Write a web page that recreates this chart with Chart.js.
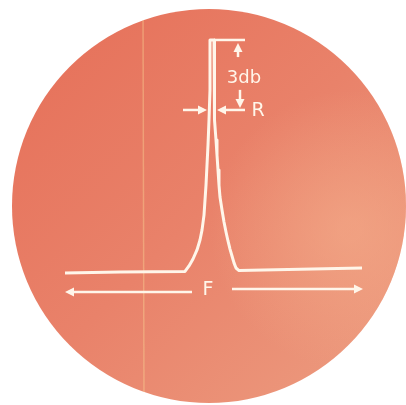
<!DOCTYPE html>
<html>
<head>
<meta charset="utf-8">
<script src="https://cdn.jsdelivr.net/npm/chart.js@4.4.0/dist/chart.umd.min.js"></script>
<style>
  html, body { margin: 0; padding: 0; background: #ffffff; }
  #wrap { width: 406px; height: 405px; }
</style>
</head>
<body>
<div id="wrap"><canvas id="scope" width="406" height="405"></canvas></div>
<script>
// Resonance curve as seen on the scope: frequency offset (0 = resonance) vs relative amplitude (peak = 1)
const freq = [-36.75, -23, -6.75, -5.75, -4.75, -3.75, -3, -2.5, -2, -1.75, -1.5, -1.25, -1, -0.75, -0.5, -0.5,
              0.5, 0.5, 0.75, 1, 1.25, 1.5, 1.75, 2, 2.5, 3, 3.5, 4, 4.5, 5, 5.5, 6, 6.75, 37.5];
const amp  = [-0.009, -0.004, -0.002, 0.022, 0.052, 0.091, 0.134, 0.177, 0.242, 0.307, 0.372, 0.459, 0.545, 0.654, 0.784, 1.0,
              1.0, 0.784, 0.654, 0.567, 0.502, 0.437, 0.372, 0.320, 0.264, 0.212, 0.169, 0.130, 0.095, 0.065, 0.035, 0.013, 0.002, 0.013];

// marker levels and labels
const peakLevel = 1.0;
const dbLevel = 0.697;        // 3 db down
const fLevelLeft = -0.091;
const fLevelRight = -0.078;

// [x1, y1, x2, y2, arrowhead at end?]
const markers = [
  [0.5, peakLevel, 8.25, peakLevel, false],   // top reference
  [6.5, 0.926, 6.5, 0.987, true],             // up to peak
  [7, 0.784, 7, 0.706, true],                 // down to 3db
  [8.25, dbLevel, 1.25, dbLevel, true],       // R right side
  [-7.25, dbLevel, -1.25, dbLevel, true],     // R left side
  [-5, fLevelLeft, -36.75, fLevelLeft, true], // F left
  [5, fLevelRight, 37.75, fLevelRight, true]  // F right
];

// [text, x, y, font size]
const labels = [
  ["3db", 8, 0.835, 18],
  ["R", 11.5, 0.693, 19],
  ["F", -1, -0.082, 19]
];

const ink = "#fff6ea";

const scopeFace = {
  id: "scopeFace",
  beforeDraw(chart) {
    const ctx = chart.ctx;
    ctx.save();
    ctx.fillStyle = "#ffffff";
    ctx.fillRect(0, 0, chart.width, chart.height);
    const cx = 209, cy = 206, r = 197;
    ctx.beginPath();
    ctx.arc(cx, cy, r, 0, Math.PI * 2);
    ctx.clip();
    const g = ctx.createLinearGradient(40, 30, 380, 380);
    g.addColorStop(0, "#e6715a");
    g.addColorStop(0.5, "#e9826a");
    g.addColorStop(1, "#ec9a7e");
    ctx.fillStyle = g;
    ctx.fillRect(0, 0, chart.width, chart.height);
    const h = ctx.createRadialGradient(350, 230, 10, 350, 230, 140);
    h.addColorStop(0, "rgba(245,175,140,0.55)");
    h.addColorStop(1, "rgba(245,175,140,0)");
    ctx.fillStyle = h;
    ctx.fillRect(0, 0, chart.width, chart.height);
    // crease in the photo
    ctx.strokeStyle = "rgba(250,215,150,0.4)";
    ctx.lineWidth = 1.5;
    ctx.beginPath();
    ctx.moveTo(143, 0);
    ctx.lineTo(144, chart.height);
    ctx.stroke();
    ctx.restore();
  }
};

function arrow(ctx, x1, y1, x2, y2, head) {
  const a = Math.atan2(y2 - y1, x2 - x1);
  const len = head ? 9 : 0;
  ctx.beginPath();
  ctx.moveTo(x1, y1);
  ctx.lineTo(x2 - Math.cos(a) * len * 0.8, y2 - Math.sin(a) * len * 0.8);
  ctx.stroke();
  if (head) {
    ctx.beginPath();
    ctx.moveTo(x2, y2);
    ctx.lineTo(x2 - Math.cos(a) * len + Math.sin(a) * 4.5, y2 - Math.sin(a) * len - Math.cos(a) * 4.5);
    ctx.lineTo(x2 - Math.cos(a) * len - Math.sin(a) * 4.5, y2 - Math.sin(a) * len + Math.cos(a) * 4.5);
    ctx.closePath();
    ctx.fill();
  }
}

const scopeMarks = {
  id: "scopeMarks",
  afterDatasetsDraw(chart) {
    const ctx = chart.ctx;
    const xs = chart.scales.x, ys = chart.scales.y;
    ctx.save();
    ctx.strokeStyle = ink;
    ctx.fillStyle = ink;
    ctx.lineWidth = 2.5;
    markers.forEach(m => {
      arrow(ctx, xs.getPixelForValue(m[0]), ys.getPixelForValue(m[1]),
        xs.getPixelForValue(m[2]), ys.getPixelForValue(m[3]), m[4]);
    });
    ctx.textAlign = "center";
    ctx.textBaseline = "middle";
    labels.forEach(l => {
      ctx.font = l[3] + "px 'DejaVu Sans', sans-serif";
      ctx.fillText(l[0], xs.getPixelForValue(l[1]), ys.getPixelForValue(l[2]));
    });
    ctx.restore();
  }
};

new Chart(document.getElementById("scope"), {
  type: "scatter",
  data: {
    datasets: [{
      data: freq.map((f, i) => ({ x: f, y: amp[i] })),
      showLine: true,
      borderColor: ink,
      borderWidth: 3,
      borderJoinStyle: "round",
      pointRadius: 0,
      tension: 0,
      fill: false
    }]
  },
  options: {
    responsive: false,
    animation: false,
    layout: { padding: 0 },
    plugins: { legend: { display: false }, tooltip: { enabled: false } },
    scales: {
      x: { type: "linear", min: -53, max: 48.5, display: false },
      y: { type: "linear", min: -0.58, max: 1.173, display: false }
    }
  },
  plugins: [scopeFace, scopeMarks]
});
</script>
</body>
</html>
